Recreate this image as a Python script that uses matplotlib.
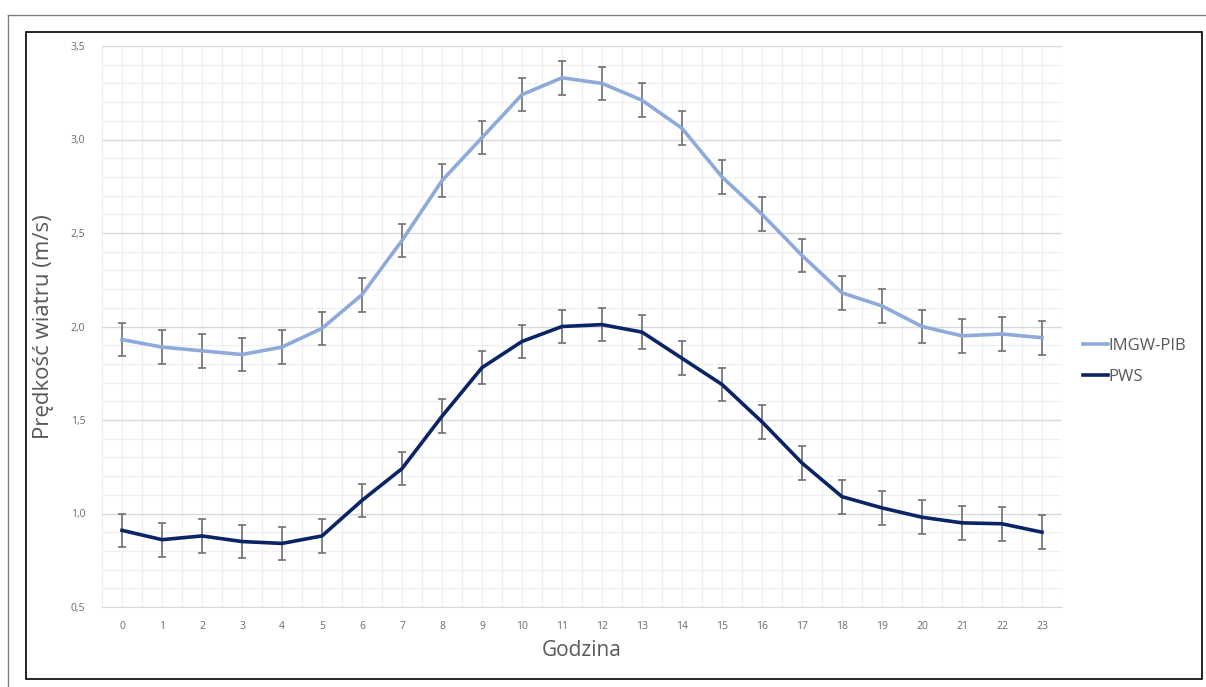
import matplotlib.pyplot as plt
from matplotlib.patches import Rectangle
from matplotlib.lines import Line2D
from matplotlib.ticker import MultipleLocator, FuncFormatter

hours = list(range(24))
imgw = [1.93, 1.89, 1.87, 1.85, 1.89, 1.99, 2.17, 2.46, 2.78, 3.01, 3.24, 3.33,
        3.30, 3.21, 3.06, 2.80, 2.60, 2.38, 2.18, 2.11, 2.00, 1.95, 1.96, 1.94]
pws = [0.91, 0.86, 0.88, 0.85, 0.84, 0.88, 1.07, 1.24, 1.52, 1.78, 1.92, 2.00,
       2.01, 1.97, 1.83, 1.69, 1.49, 1.27, 1.09, 1.03, 0.98, 0.95, 0.945, 0.90]
err = 0.09

W, H = 1206, 687
fig = plt.figure(figsize=(W / 100, H / 100), dpi=100)
plt.rcParams['font.family'] = ['Open Sans', 'DejaVu Sans']

# outer and inner frames
fig.add_artist(Line2D([8 / W, 1], [1 - 15 / H, 1 - 15 / H], color='#7f7f7f', lw=1))
fig.add_artist(Line2D([8 / W, 8 / W], [0, 1 - 15 / H], color='#7f7f7f', lw=1))
fig.add_artist(Rectangle((26 / W, 1 - 679 / H), (1202 - 26) / W, (679 - 32) / H,
                         fill=False, edgecolor='black', lw=1.2))

ax = fig.add_axes([102 / W, 1 - 607 / H, (1062 - 102) / W, (607 - 46) / H])

ax.errorbar(hours, imgw, yerr=err, color='#8eaadb', lw=2.6, ecolor='#6f6f6f',
            elinewidth=1.2, capsize=3, capthick=1.2, label='IMGW-PIB', zorder=3)
ax.errorbar(hours, pws, yerr=err, color='#0b2466', lw=2.6, ecolor='#6f6f6f',
            elinewidth=1.2, capsize=3, capthick=1.2, label='PWS', zorder=3)

ax.set_xlim(-0.5, 23.5)
ax.set_ylim(0.5, 3.5)
ax.set_xticks(hours)
ax.xaxis.set_minor_locator(MultipleLocator(0.5))
ax.yaxis.set_major_locator(MultipleLocator(0.5))
ax.yaxis.set_minor_locator(MultipleLocator(0.1))
ax.yaxis.set_major_formatter(FuncFormatter(lambda v, p: f'{v:.1f}'.replace('.', ',')))

ax.grid(which='major', axis='y', color='#d9d9d9', lw=1)
ax.grid(which='minor', axis='y', color='#efefef', lw=0.8)
ax.grid(which='minor', axis='x', color='#efefef', lw=0.8)
ax.grid(which='major', axis='x', color='#efefef', lw=0.8)
ax.set_axisbelow(True)
for s in ['top', 'right', 'left']:
    ax.spines[s].set_visible(False)
ax.spines['bottom'].set_color('#d9d9d9')
ax.tick_params(which='both', length=0, labelsize=7.5, labelcolor='#6a6a6a')
ax.tick_params(axis='x', pad=10)
ax.tick_params(axis='y', pad=12)

ax.set_xlabel('Godzina', fontsize=15, color='#595959', labelpad=6)
ax.set_ylabel('Prędkość wiatru (m/s)', fontsize=16, color='#595959', labelpad=12)

handles, labels = ax.get_legend_handles_labels()
handles = [Line2D([], [], color=h[0].get_color(), lw=2.6) for h in handles]
fig.legend(handles, labels, loc='upper left', bbox_to_anchor=(1068 / W, 1 - 323 / H),
           frameon=False, fontsize=12, labelcolor='#595959', handlelength=1.5,
           handletextpad=0.05, labelspacing=0.9)

fig.savefig('out.png', dpi=100)
